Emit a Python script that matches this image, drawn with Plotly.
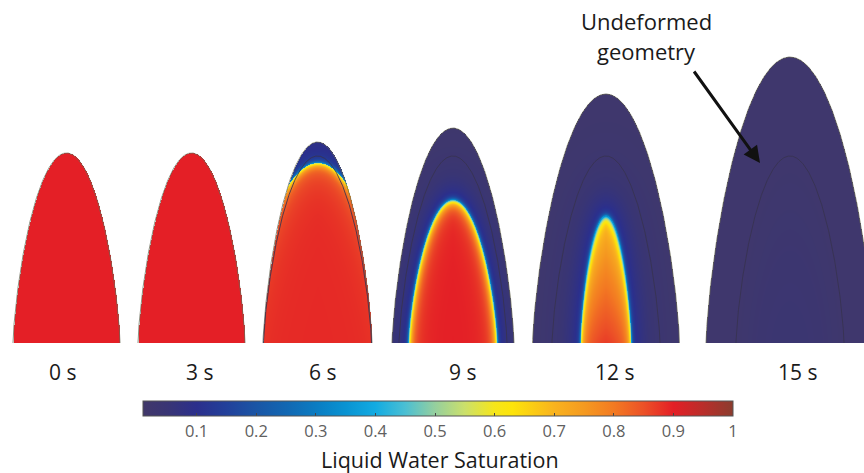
import numpy as np
import plotly.graph_objects as go

# ---------------- data ----------------
time_labels = ["0 s", "3 s", "6 s", "9 s", "12 s", "15 s"]
# deformed outer geometry (half-width at base, height)
outer_half_width = [53.5, 53.5, 54.5, 61.0, 73.5, 84.0]
outer_height = [190.0, 190.0, 201.0, 215.0, 249.0, 286.0]
# undeformed geometry (drawn as a faint line once deformation starts)
undeformed_half_width = 54.0
undeformed_height = 187.0
show_undeformed = [False, False, True, True, True, True]
# liquid front (half-width at base, height, shape exponent); None = no front
front_half_width = [None, None, 80.0, 44.5, 25.5, None]
front_height = [None, None, 180.0, 143.0, 127.0, None]
front_exponent = [None, None, 1.1, 1.4, 1.4, None]
# saturation deep inside the liquid region (at base / at top)
core_sat_base = [0.90, 0.90, 0.89, 0.90, 0.88, 0.02]
core_sat_top = [0.90, 0.90, 0.89, 0.90, 0.74, 0.02]
dry_sat = 0.02
halo_sat = 0.11
# colour bar
cbar_min, cbar_max = 0.01, 1.0
tick_vals = [0.1, 0.2, 0.3, 0.4, 0.5, 0.6, 0.7, 0.8, 0.9, 1.0]
tick_text = ["0.1", "0.2", "0.3", "0.4", "0.5", "0.6", "0.7", "0.8", "0.9", "1"]
cmap_vals = [0.01, 0.05, 0.10, 0.15, 0.20, 0.25, 0.30, 0.35, 0.40, 0.45, 0.50,
             0.55, 0.60, 0.63, 0.70, 0.75, 0.80, 0.85, 0.90, 0.95, 1.00]
cmap_cols = ["#41386a", "#393574", "#2b2f8c", "#22409a", "#1a55a5", "#1267b2",
             "#0a7cc2", "#0993d2", "#12abe2", "#4bbfd3", "#95cf9e", "#cbe06b",
             "#f6e61a", "#fde40a", "#f9b31e", "#f59a20", "#f37a22", "#ec5127",
             "#e41f26", "#b92e2a", "#8b3c2e"]

# ---------------- layout / style ----------------
dome_center = [66.5, 191.5, 317.5, 453.0, 606.0, 790.0]
label_x = [62, 199, 322, 462, 614, 797]
# front profile shape params per dome: A1, L1, A2, L2, Lout, vertical stretch k
prof = [None, None,
        (0.30, 2.0, 0.07, 12.0, 25.0, 0.6),
        (0.38, 2.5, 0.10, 8.0, 12.0, 0.6),
        (0.30, 2.0, 0.12, 10.0, 15.0, 0.6),
        None]
Q = 1.4
W, H = 864, 473
BASE = 343  # pixel row of dome bases

def curve(a, b, q=Q, n=800):
    t = np.linspace(0, np.pi, n)
    return a * np.cos(t), b * np.sin(t) ** (2.0 / q)

def signed_dist(X, Hh, a, b, q, k):
    cx, ch = curve(a, b, q)
    F = (X / a) ** 2 + (np.clip(Hh, 0, None) / b) ** q
    d = np.empty_like(X)
    for i in range(X.shape[0]):
        dx = X[i][:, None] - cx[None, :]
        dh = (Hh[i][:, None] - ch[None, :]) * k
        d[i] = np.sqrt((dx * dx + dh * dh).min(axis=1))
    return np.where(F <= 1, -d, d)

fig = go.Figure()
for i in range(6):
    a, b = outer_half_width[i], outer_height[i]
    n = int(np.ceil(a))
    xs = np.arange(-n, n) + 0.5
    hs = np.arange(0, int(np.ceil(b))) + 0.5
    X, Hh = np.meshgrid(xs, hs)
    Fo = (X / a) ** 2 + (Hh / b) ** Q
    mask = Fo > 1
    if front_half_width[i] is None:
        s = np.full(X.shape, core_sat_base[i])
        if show_undeformed[i]:
            Fu = (X / undeformed_half_width) ** 2 + (Hh / undeformed_height) ** Q
            s = s + 0.02 * np.clip(1 - Fu, 0, 1)
    else:
        af, bf, qf = front_half_width[i], front_height[i], front_exponent[i]
        A1, L1, A2, L2, Lout, k = prof[i]
        sd = signed_dist(X, Hh, af, bf, qf, k)
        din = np.clip(-sd, 0, None)
        dout = np.clip(sd, 0, None)
        core = core_sat_base[i] + (core_sat_top[i] - core_sat_base[i]) * np.clip(Hh / bf, 0, 1)
        s_in = core - A1 * np.exp(-din / L1) - A2 * np.exp(-din / L2)
        s_out = dry_sat + halo_sat * np.exp(-dout / Lout) + 0.25 * np.exp(-dout / 1.2)
        s = np.where(sd <= 0, s_in, s_out)
    s = np.clip(s, cbar_min, cbar_max)
    z = np.where(mask, None, np.round(s, 4)).tolist()
    fig.add_trace(go.Heatmap(
        x=(dome_center[i] + xs).tolist(), y=hs.tolist(), z=z,
        coloraxis="coloraxis", hoverinfo="skip", zsmooth=False))
    # outer outline
    cx, ch = curve(a, b, Q, 300)
    fig.add_trace(go.Scatter(x=dome_center[i] + cx, y=ch, mode="lines",
                             line=dict(color="rgba(105,105,85,0.75)", width=1),
                             hoverinfo="skip", showlegend=False))
    if show_undeformed[i]:
        ux, uh = curve(undeformed_half_width, undeformed_height, Q, 300)
        fig.add_trace(go.Scatter(x=dome_center[i] + ux, y=uh, mode="lines",
                                 line=dict(color="rgba(55,50,80,0.85)", width=1),
                                 hoverinfo="skip", showlegend=False))

colorscale = [[(v - cbar_min) / (cbar_max - cbar_min), c] for v, c in zip(cmap_vals, cmap_cols)]
colorscale[0][0] = 0.0
colorscale[-1][0] = 1.0

def py(pix):  # pixel row -> data height
    return BASE - pix

annotations = []
for lx, txt in zip(label_x, time_labels):
    annotations.append(dict(x=lx, y=py(372), text=txt, showarrow=False,
                            font=dict(family="Open Sans", size=21, color="#1a1a1a"),
                            xanchor="center", yanchor="middle"))
annotations.append(dict(x=646, y=py(21), text="Undeformed", showarrow=False,
                        font=dict(family="Open Sans", size=22, color="#1a1a1a")))
annotations.append(dict(x=646, y=py(51), text="geometry", showarrow=False,
                        font=dict(family="Open Sans", size=22, color="#1a1a1a")))
annotations.append(dict(x=760, y=py(163), ax=693, ay=py(70), axref="x", ayref="y",
                        text="", showarrow=True, arrowhead=2, arrowsize=1.1,
                        arrowwidth=3, arrowcolor="#111111"))
annotations.append(dict(x=440, y=py(459), text="Liquid Water Saturation", showarrow=False,
                        font=dict(family="Open Sans", size=21.5, color="#1a1a1a")))

fig.update_layout(
    width=W, height=H,
    margin=dict(l=0, r=0, t=0, b=0, autoexpand=False),
    paper_bgcolor="white", plot_bgcolor="white",
    showlegend=False,
    xaxis=dict(range=[0, W], visible=False, fixedrange=True),
    yaxis=dict(range=[BASE - H, BASE], visible=False, fixedrange=True),
    coloraxis=dict(
        colorscale=colorscale, cmin=cbar_min, cmax=cbar_max,
        colorbar=dict(
            orientation="h", x=438 / W, xanchor="center",
            y=1 - 401 / H, yanchor="top", yref="paper",
            len=590, lenmode="pixels", thickness=15, thicknessmode="pixels",
            xpad=0, ypad=0, outlinewidth=1, outlinecolor="#555555",
            tickvals=tick_vals, ticktext=tick_text, ticks="inside", ticklen=3,
            tickcolor="#444444", tickfont=dict(family="Open Sans", size=16.5, color="#606060"),
        ),
    ),
    annotations=annotations,
)

fig.write_html("out.html")
